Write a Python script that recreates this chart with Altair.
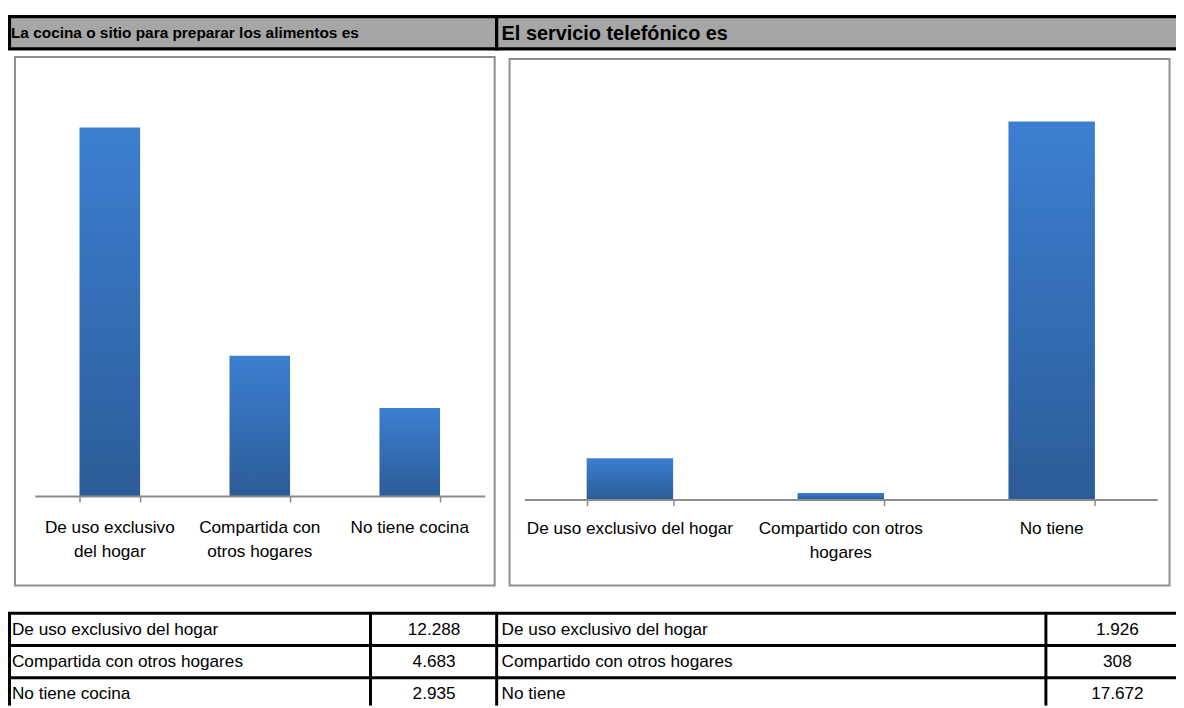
import altair as alt
import pandas as pd

W, H = 1176, 700
REG = "Liberation Sans, Arial, sans-serif"
FS = 17.3

title_left = "La cocina o sitio para preparar los alimentos es"
title_right = "El servicio telefónico es"

kitchen_cats = ["De uso exclusivo del hogar", "Compartida con otros hogares", "No tiene cocina"]
kitchen_vals = [12288, 4683, 2935]
kitchen_axis_labels = ["De uso exclusivo\ndel hogar", "Compartida con\notros hogares", "No tiene cocina"]
kitchen_table_vals = ["12.288", "4.683", "2.935"]

phone_cats = ["De uso exclusivo del hogar", "Compartido con otros hogares", "No tiene"]
phone_vals = [1926, 308, 17672]
phone_axis_labels = ["De uso exclusivo del hogar", "Compartido con otros\nhogares", "No tiene"]
phone_table_vals = ["1.926", "308", "17.672"]

left_df = pd.DataFrame({"cat": kitchen_cats, "value": kitchen_vals,
                        "label": kitchen_axis_labels, "tval": kitchen_table_vals})
right_df = pd.DataFrame({"cat": phone_cats, "value": phone_vals,
                         "label": phone_axis_labels, "tval": phone_table_vals})
one = pd.DataFrame({"k": [0]})

grad = alt.Gradient(gradient="linear",
                    stops=[alt.GradientStop(color="#3c7fd1", offset=0),
                           alt.GradientStop(color="#2c5c98", offset=1)],
                    x1=0, x2=0, y1=0, y2=1)

layers = []

def rect(x, x2, y, y2, fill, stroke, sw):
    return alt.Chart(one).mark_rect(fill=fill, stroke=stroke, strokeWidth=sw).encode(
        x=alt.value(x), x2=alt.value(x2), y=alt.value(y), y2=alt.value(y2))

def rule(x, x2, y, y2, color="black", sw=3):
    return alt.Chart(one).mark_rule(color=color, strokeWidth=sw).encode(
        x=alt.value(x), x2=alt.value(x2), y=alt.value(y), y2=alt.value(y2))

# header bars
layers.append(rect(1.5, 492, 6.3, 38.7, "#a6a6a6", "black", 3.2))
layers.append(rect(492, W + 10, 6.3, 38.7, "#a6a6a6", "black", 3.2))
layers.append(alt.Chart(one).mark_text(text=title_left, font=REG, fontWeight="bold", fontSize=15.5,
                                       align="left", baseline="middle", color="black").encode(
    x=alt.value(3), y=alt.value(23)))
layers.append(alt.Chart(one).mark_text(text=title_right, font=REG, fontWeight="bold", fontSize=20,
                                       align="left", baseline="middle", color="black").encode(
    x=alt.value(497), y=alt.value(23.5)))

# chart boxes
layers.append(rect(7, 490, 47, 579, "white", "#8e8e8e", 2))
layers.append(rect(505, 1169.5, 49, 579, "white", "#8e8e8e", 2))

def axis_for(off):
    return alt.Axis(title=None, labels=False, orient="bottom", offset=off, grid=False,
                    domainColor="#8c8c8c", domainWidth=2, tickColor="#8c8c8c",
                    tickWidth=1.5, tickSize=6, tickBand="extent", zindex=1)

# left bars
lx = alt.Scale(domain=kitchen_cats, range=[27, 480], paddingInner=0.596, paddingOuter=0.298)
ly = alt.Scale(domain=[0, 14000], range=[489, 489 - 14000 * 0.03019])
layers.append(alt.Chart(left_df).mark_bar(color=grad).encode(
    x=alt.X("cat:N", sort=kitchen_cats, scale=lx, axis=axis_for(489 - H)),
    y=alt.Y("value:Q", scale=ly, axis=None)))
layers.append(alt.Chart(left_df).mark_text(font=REG, fontSize=FS, lineBreak="\n", lineHeight=24,
                                           baseline="alphabetic", align="center", color="black").encode(
    x=alt.X("cat:N", sort=kitchen_cats, scale=lx, axis=None),
    y=alt.value(526), text="label:N"))

# right bars
rx = alt.Scale(domain=phone_cats, range=[520, 1157], paddingInner=0.59, paddingOuter=0.295)
ry = alt.Scale(domain=[0, 20000], range=[492.5, 492.5 - 20000 * 0.021532])
layers.append(alt.Chart(right_df).mark_bar(color=grad).encode(
    x=alt.X("cat:N", sort=phone_cats, scale=rx, axis=axis_for(492.5 - H)),
    y=alt.Y("value:Q", scale=ry, axis=None)))
layers.append(alt.Chart(right_df).mark_text(font=REG, fontSize=FS, lineBreak="\n", lineHeight=24,
                                            baseline="alphabetic", align="center", color="black").encode(
    x=alt.X("cat:N", sort=phone_cats, scale=rx, axis=None),
    y=alt.value(527), text="label:N"))

# table grid
for yy in [607, 639.5, 672]:
    layers.append(rule(0, W, yy, yy))
for xx in [1.5, 365, 492, 1045]:
    layers.append(rule(xx, xx, 607, H))

def table_text(df, cats, field, x, align):
    return alt.Chart(df).mark_text(font=REG, fontSize=FS, align=align, baseline="middle",
                                   color="black").encode(
        x=alt.value(x),
        y=alt.Y("cat:N", sort=cats, scale=alt.Scale(domain=cats, range=[624, 688], padding=0),
                axis=None),
        text=f"{field}:N")

layers.append(table_text(left_df, kitchen_cats, "cat", 4, "left"))
layers.append(table_text(left_df, kitchen_cats, "tval", 429, "center"))
layers.append(table_text(right_df, phone_cats, "cat", 497, "left"))
layers.append(table_text(right_df, phone_cats, "tval", 1117, "center"))

chart = alt.layer(*layers).resolve_scale(x="independent", y="independent").properties(
    width=W, height=H, padding=0, autosize=alt.AutoSizeParams(type="none"),
    background="white"
).configure_view(stroke=None)

chart.save("out.html", embed_options={"renderer": "svg", "actions": False})
